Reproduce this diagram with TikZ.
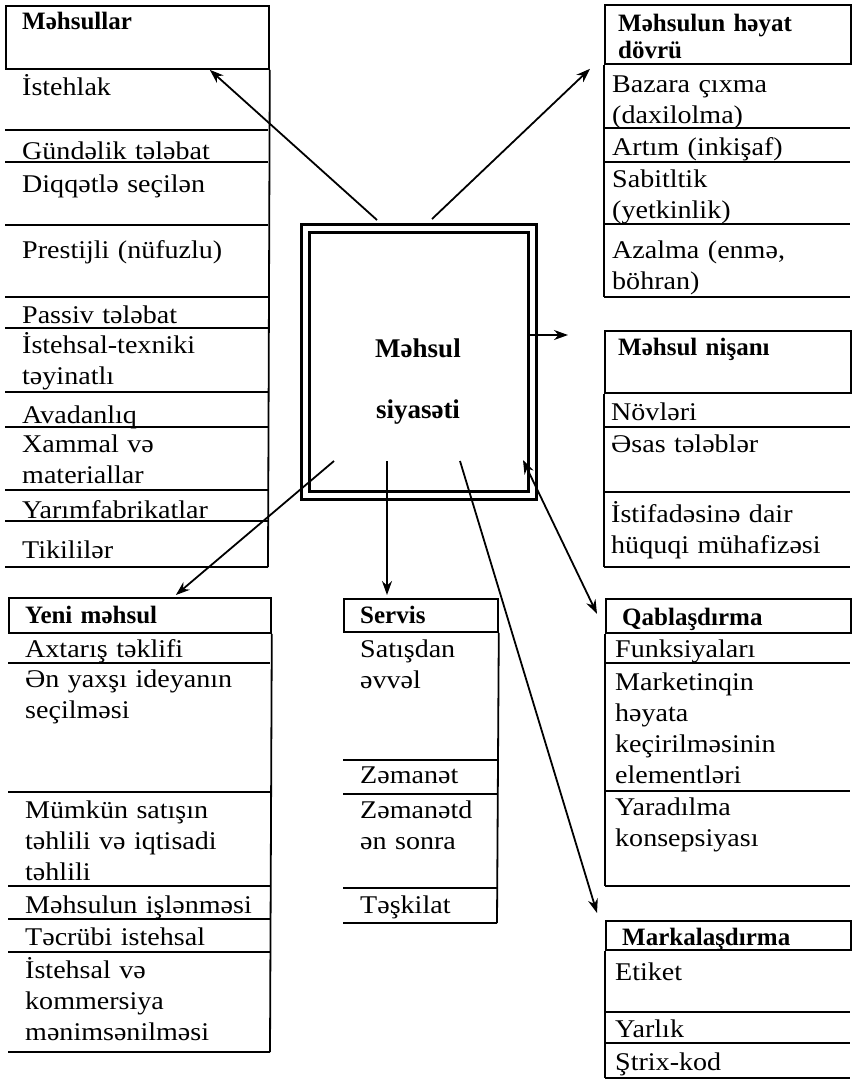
\documentclass[tikz,border=0pt]{standalone}
\usepackage{fontspec}
\setmainfont{Liberation Serif}
\newfontfamily\widefont{Liberation Serif}[FakeStretch=1.1]
\usetikzlibrary{calc,arrows.meta}

\tikzset{
  rule/.style={line width=1.8pt},
  hdr/.style={draw, line width=1.8pt, inner sep=0pt, anchor=north west},
  itm/.style={anchor=base west, inner sep=0pt, text width=250pt, align=left,
    font=\widefont\fontsize{25.5}{31}\selectfont},
  ttl/.style={anchor=base west, inner sep=0pt, text width=240pt, align=left,
    font=\bfseries\fontsize{25}{27}\selectfont},
  ctr/.style={inner sep=0pt, font=\bfseries\fontsize{27}{30}\selectfont},
  arr/.style={line width=1.8pt, -{Stealth[length=14pt,width=10pt]}},
  dbl/.style={line width=1.8pt, {Stealth[length=14pt,width=10pt]}-{Stealth[length=14pt,width=10pt]}},
}

\begin{document}
\begin{tikzpicture}[x=1pt, y=-1pt]
\useasboundingbox (0,0) rectangle (856,1085);
\fill[white] (0,0) rectangle (856,1085);

% ---- central block: product policy ----
\node[draw, line width=3pt, double, double distance=5pt, minimum width=227.5pt,
      minimum height=266.5pt, inner sep=0pt] (pol) at (418.75,361.75) {};
\node[ctr] (polA) at (418,348) {Məhsul};
\node[ctr] (polB) at (418,412) {siyasəti};

% ---- Məhsullar ----
\node[hdr, minimum width=263pt, minimum height=63pt] (mhsH) at (5,5) {};
\node[ttl] (mhsT) at (22,29) {Məhsullar};
\draw[rule] (mhsH.south east) -- (268,567);
\foreach \y in {130,162,225,297,328,392,427,490,521,567}
  \draw[rule] (5,\y) -- (268,\y);
\node[itm] (m1)  at (22,95)  {İstehlak};
\node[itm] (m2)  at (22,159) {Gündəlik tələbat};
\node[itm] (m3)  at (22,192) {Diqqətlə seçilən};
\node[itm] (m4)  at (22,258) {Prestijli (nüfuzlu)};
\node[itm] (m5)  at (22,323) {Passiv tələbat};
\node[itm] (m6)  at (22,353) {İstehsal-texniki\\təyinatlı};
\node[itm] (m7)  at (22,423) {Avadanlıq};
\node[itm] (m8)  at (22,452) {Xammal və\\materiallar};
\node[itm] (m9)  at (22,518) {Yarımfabrikatlar};
\node[itm] (m10) at (22,558) {Tikililər};

% ---- Yeni məhsul ----
\node[hdr, minimum width=262pt, minimum height=35pt] (ymH) at (8,597) {};
\node[ttl] (ymT) at (25,623) {Yeni məhsul};
\draw[rule] (ymH.south east) -- (270,1052);
\foreach \y in {663,792,886,919,952,1052}
  \draw[rule] (8,\y) -- (270,\y);
\node[itm] (y1) at (25,657) {Axtarış təklifi};
\node[itm] (y2) at (25,687) {Ən yaxşı ideyanın\\seçilməsi};
\node[itm] (y3) at (25,818) {Mümkün satışın\\təhlili və iqtisadi\\təhlili};
\node[itm] (y4) at (25,913) {Məhsulun işlənməsi};
\node[itm] (y5) at (25,945) {Təcrübi istehsal};
\node[itm] (y6) at (25,978) {İstehsal və\\kommersiya\\mənimsənilməsi};

% ---- Servis ----
\node[hdr, minimum width=154pt, minimum height=33pt] (srvH) at (343,598) {};
\node[ttl] (srvT) at (360,623) {Servis};
\draw[rule] (srvH.south east) -- (497,923);
\foreach \y in {760,794,888,923}
  \draw[rule] (343,\y) -- (497,\y);
\node[itm] (v1) at (360,657) {Satışdan\\əvvəl};
\node[itm] (v2) at (360,783) {Zəmanət};
\node[itm] (v3) at (360,818) {Zəmanətd\\ən sonra};
\node[itm] (v4) at (360,913) {Təşkilat};

% ---- Məhsulun həyat dövrü ----
\node[hdr, minimum width=246pt, minimum height=59pt] (hdvH) at (604,4) {};
\node[ttl] (hdvT) at (618,31) {Məhsulun həyat\\dövrü};
\draw[rule] (hdvH.south west) -- (604,297);
\foreach \y in {128,162,224,297}
  \draw[rule] (604,\y) -- (850,\y);
\node[itm] (h1) at (612,92)  {Bazara çıxma\\(daxilolma)};
\node[itm] (h2) at (612,155) {Artım (inkişaf)};
\node[itm] (h3) at (612,187) {Sabitltik\\(yetkinlik)};
\node[itm] (h4) at (612,258) {Azalma (enmə,\\böhran)};

% ---- Məhsul nişanı ----
\node[hdr, minimum width=246pt, minimum height=62pt] (nisH) at (604,330) {};
\node[ttl] (nisT) at (618,355) {Məhsul nişanı};
\draw[rule] (nisH.south west) -- (604,567);
\foreach \y in {427,492,567}
  \draw[rule] (604,\y) -- (850,\y);
\node[itm] (n1) at (611,420) {Növləri};
\node[itm] (n2) at (611,452) {Əsas tələblər};
\node[itm] (n3) at (611,522) {İstifadəsinə dair\\hüquqi mühafizəsi};

% ---- Qablaşdırma ----
\node[hdr, minimum width=245pt, minimum height=34pt] (qabH) at (605,598) {};
\node[ttl] (qabT) at (622,625) {Qablaşdırma};
\draw[rule] (qabH.south west) -- (605,886);
\foreach \y in {663,791,886}
  \draw[rule] (605,\y) -- (850,\y);
\node[itm] (q1) at (615,657) {Funksiyaları};
\node[itm] (q2) at (615,690) {Marketinqin\\həyata\\keçirilməsinin\\elementləri};
\node[itm] (q3) at (615,815) {Yaradılma\\konsepsiyası};

% ---- Markalaşdırma ----
\node[hdr, minimum width=245pt, minimum height=29pt] (mrkH) at (605,920) {};
\node[ttl] (mrkT) at (622,945) {Markalaşdırma};
\draw[rule] (mrkH.south west) -- (605,1078);
\foreach \y in {1012,1043,1078}
  \draw[rule] (605,\y) -- (850,\y);
\node[itm] (k1) at (615,980)  {Etiket};
\node[itm] (k2) at (615,1037) {Yarlık};
\node[itm] (k3) at (615,1070) {Ştrix-kod};

% ---- connectors from the central block ----
\coordinate (s1) at (377,220);
\coordinate (s2) at (432,219);
\coordinate (s3) at (527,335);
\coordinate (e3) at (568,335);
\coordinate (s4) at (334,461);
\coordinate (s5) at (387,461);
\coordinate (s6) at (460,461);
\coordinate (s7) at (523,460);

\draw[arr] (s1) -- ($(mhsH.south east)+(-60,0)$);
\draw[arr] (s2) -- ($(hdvH.south west)+(-14,4)$);
\draw[arr] (s3) -- (e3);
\draw[arr] (s4) -- ($(ymH.north)+(36,-2)$);
\draw[arr] (s5) -- ($(srvH.north west)+(44,-3)$);
\draw[arr] (s6) -- ($(mrkH.north west)+(-8,-7)$);
\draw[dbl] (s7) -- ($(qabH.west)+(-8,-2)$);
\end{tikzpicture}
\end{document}
